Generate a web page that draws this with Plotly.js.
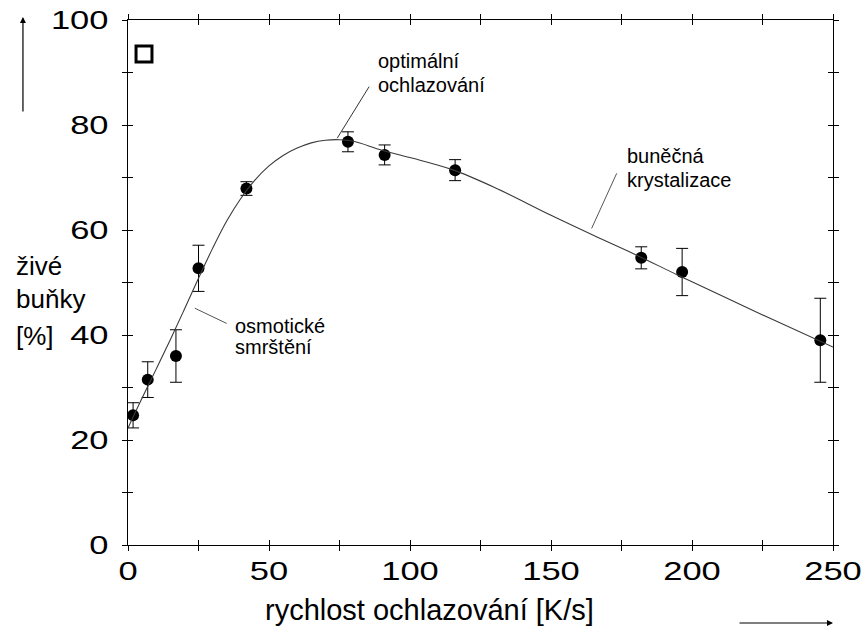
<!DOCTYPE html>
<html>
<head>
<meta charset="utf-8">
<script src="https://cdn.plot.ly/plotly-3.0.1.min.js"></script>
<style>
html, body { margin: 0; padding: 0; background: #fff; }
#chart { width: 868px; height: 627px; }
</style>
</head>
<body>
<div id="chart"></div>
<script>
// Measured data points: cooling rate [K/s] vs. viable cells [%]
const rate = [1.8, 7, 17, 25, 42, 78, 91, 116, 182, 196.5, 245.5];
const viability = [24.7, 31.5, 36, 52.7, 67.9, 76.8, 74.3, 71.4, 54.7, 52, 39];
const viabilityErr = [2.4, 3.4, 5, 4.4, 1.3, 1.9, 1.9, 2, 2.1, 4.5, 8];

// Fitted curve
const fitRate = [0, 5, 10, 15, 20, 25, 30, 35, 40, 45, 50, 55, 60, 65, 70, 75, 80, 90, 100, 115, 130, 150, 165, 180, 195, 210, 230, 250];
const fitViability = [22.3, 28.0, 33.5, 39.1, 44.9, 50.8, 56.5, 61.7, 66.0, 69.5, 72.2, 74.2, 75.6, 76.6, 77.1, 77.2, 76.9, 75.2, 73.8, 71.5, 68.1, 62.8, 59.0, 55.3, 51.4, 47.6, 42.6, 37.7];

// Tick labels
const xTickVals = [0, 50, 100, 150, 200, 250];
const xTickText = ['0', '50', '100', '150', '200', '250'];
const yTickVals = [0, 20, 40, 60, 80, 100];
const yTickText = ['0', '20', '40', '60', '80', '100'];

// Texts
const xTitle = 'rychlost ochlazování [K/s]';
const yTitleLines = ['živé', 'buňky', '[%]'];
const noteOsmotic = ['osmotické', 'smrštění'];
const noteOptimal = ['optimální', 'ochlazování'];
const noteCrystal = ['buněčná', 'krystalizace'];

const FONT = 'Liberation Sans, Arial, Helvetica, sans-serif';

const traces = [
  {
    x: fitRate, y: fitViability, xaxis: 'x2', yaxis: 'y2',
    type: 'scatter', mode: 'lines',
    line: { color: '#3a3a3a', width: 1.1, shape: 'spline', smoothing: 1 },
    hoverinfo: 'skip', showlegend: false
  },
  {
    x: rate, y: viability,
    type: 'scatter', mode: 'markers', cliponaxis: false,
    marker: { color: '#000', size: 12, symbol: 'circle' },
    error_y: { type: 'data', array: viabilityErr, visible: true, color: '#000', thickness: 1, width: 6 },
    showlegend: false
  }
];

const axisCommon = {
  showgrid: false, zeroline: false,
  showline: true, linecolor: '#000', linewidth: 1,
  mirror: 'ticks', ticklen: 5, tickwidth: 1, tickcolor: '#000'
};

function note(x, y, text) {
  return { x: x, y: y, xref: 'x', yref: 'y', text: text, showarrow: false,
    xanchor: 'left', yanchor: 'middle', font: { family: FONT, size: 20, color: '#000' } };
}
function ytl(y, text) {
  return { x: -0.1617, y: y, xref: 'paper', yref: 'paper', text: text, showarrow: false,
    xanchor: 'left', yanchor: 'middle', font: { family: FONT, size: 26, color: '#000' } };
}

const layout = {
  width: 868, height: 627,
  margin: { l: 128, r: 35, t: 20, b: 82 },
  paper_bgcolor: '#fff', plot_bgcolor: '#fff',
  font: { family: FONT, color: '#000' },
  showlegend: false,
  xaxis: Object.assign({}, axisCommon, {
    range: [0, 250], tickmode: 'array', tickvals: xTickVals, ticktext: xTickText,
    ticks: 'outside', tickfont: { family: FONT, size: 25, color: '#000' },
    minor: { dtick: 25, tick0: 0, ticks: 'outside', ticklen: 5, tickwidth: 1, tickcolor: '#000', showgrid: false }
  }),
  yaxis: Object.assign({}, axisCommon, {
    range: [0, 100], tickmode: 'array', tickvals: yTickVals, ticktext: yTickText,
    ticks: 'outside', tickfont: { family: FONT, size: 25, color: '#000' },
    minor: { dtick: 10, tick0: 0, ticks: 'outside', ticklen: 5, tickwidth: 1, tickcolor: '#000', showgrid: false }
  }),
  xaxis2: Object.assign({}, axisCommon, {
    overlaying: 'x', anchor: 'y2', side: 'bottom',
    range: [0, 250], dtick: 50, tick0: 0, ticks: 'inside', showticklabels: false,
    minor: { dtick: 25, tick0: 0, ticks: 'inside', ticklen: 5, tickwidth: 1, tickcolor: '#000', showgrid: false }
  }),
  yaxis2: Object.assign({}, axisCommon, {
    overlaying: 'y', anchor: 'x2', side: 'left',
    range: [0, 100], dtick: 20, tick0: 0, ticks: 'inside', showticklabels: false,
    minor: { dtick: 10, tick0: 0, ticks: 'inside', ticklen: 5, tickwidth: 1, tickcolor: '#000', showgrid: false }
  }),
  shapes: [
    // legend square
    { type: 'rect', xref: 'paper', yref: 'paper', x0: 0.0114, x1: 0.0340, y0: 0.9200, y1: 0.9505,
      line: { color: '#000', width: 3 }, fillcolor: 'rgba(0,0,0,0)' },
    // leader lines
    { type: 'line', xref: 'x', yref: 'y', x0: 23.7, y0: 45.1, x1: 35.0, y1: 42.2, line: { color: '#555', width: 1 } },
    { type: 'line', xref: 'x', yref: 'y', x0: 85.5, y0: 87.3, x1: 74.2, y1: 77.5, line: { color: '#333', width: 1 } },
    { type: 'line', xref: 'x', yref: 'y', x0: 173.3, y0: 70.8, x1: 164.4, y1: 60.3, line: { color: '#555', width: 1 } }
  ],
  annotations: [
    note(37.1, 41.7, noteOsmotic[0]), note(37.1, 37.7, noteOsmotic[1]),
    note(87.9, 92.2, noteOptimal[0]), note(87.9, 87.6, noteOptimal[1]),
    note(176.2, 74.1, noteCrystal[0]), note(176.2, 69.5, noteCrystal[1]),
    ytl(0.531, yTitleLines[0]), ytl(0.4686, yTitleLines[1]), ytl(0.398, yTitleLines[2]),
    { x: 0.4277, y: -0.1238, xref: 'paper', yref: 'paper', text: xTitle, showarrow: false,
      xanchor: 'center', yanchor: 'middle', font: { family: FONT, size: 29, color: '#000' } },
    // axis direction arrows
    { x: -0.149, y: 1.0057, xref: 'paper', yref: 'paper', text: '', showarrow: true,
      ax: 0, ay: 96, arrowhead: 2, arrowsize: 1, arrowwidth: 1.2, arrowcolor: '#000', standoff: 0 },
    { x: 1.0, y: -0.1486, xref: 'paper', yref: 'paper', text: '', showarrow: true,
      ax: -95, ay: 0, arrowhead: 2, arrowsize: 1, arrowwidth: 1.2, arrowcolor: '#000', standoff: 0 }
  ]
};

// Widen the tick-label glyphs (the original uses an extended face) and
// place them at the distances seen in the reference. Idempotent, and
// re-applied whenever Plotly rewrites a label.
const STRETCH = 1.38;
function adjustLabel(t, isX) {
  try {
    const cur = t.getAttribute('transform') || '';
    if (t.getAttribute('data-applied') === cur && cur !== '') return;
    const host = document.getElementById('chart').getBoundingClientRect();
    const bb = t.getBBox();
    const r = t.getBoundingClientRect();
    if (!bb || !r || r.width === 0) return;
    let extra;
    if (isX) {
      const ax = bb.x + bb.width / 2;
      const dy = (557.5 + host.top) - r.top;
      extra = ' translate(0,' + dy.toFixed(2) + ') translate(' + ax.toFixed(2) + ',0) scale(' + STRETCH + ',1) translate(' + (-ax).toFixed(2) + ',0)';
    } else {
      const ax = bb.x + bb.width;
      const dx = (108.5 + host.left) - r.right;
      extra = ' translate(' + dx.toFixed(2) + ',0) translate(' + ax.toFixed(2) + ',0) scale(' + STRETCH + ',1) translate(' + (-ax).toFixed(2) + ',0)';
    }
    const next = (cur + extra).trim();
    t.setAttribute('data-applied', next);
    t.setAttribute('transform', next);
  } catch (e) { /* keep Plotly's label as drawn */ }
}
function stretchTickLabels() {
  const xs = document.querySelectorAll('#chart .xaxislayer-above .xtick text, #chart g.xtick > text');
  for (let i = 0; i < xs.length; i++) adjustLabel(xs[i], true);
  const ys = document.querySelectorAll('#chart .yaxislayer-above .ytick text, #chart g.ytick > text');
  for (let i = 0; i < ys.length; i++) adjustLabel(ys[i], false);
}

const gd = document.getElementById('chart');
let p = null;
try {
  p = Plotly.newPlot(gd, traces, layout, { displayModeBar: false });
} catch (e) { p = null; }
stretchTickLabels();
if (p && p.then) p.then(stretchTickLabels, stretchTickLabels);
try {
  const mo = new MutationObserver(function () { stretchTickLabels(); });
  mo.observe(gd, { subtree: true, childList: true, attributes: true, attributeFilter: ['transform'] });
} catch (e) {}
setInterval(stretchTickLabels, 100);
if (document.fonts && document.fonts.ready) document.fonts.ready.then(stretchTickLabels);
window.addEventListener('load', stretchTickLabels);
</script>
</body>
</html>
